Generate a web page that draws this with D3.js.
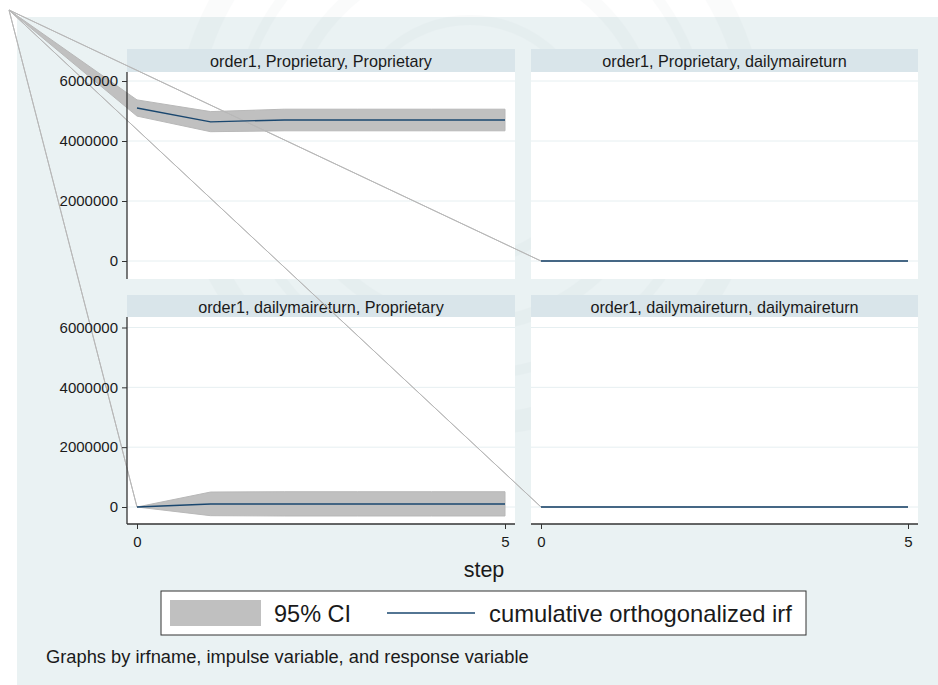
<!DOCTYPE html>
<html>
<head>
<meta charset="utf-8">
<script src="https://cdn.jsdelivr.net/npm/d3@7"></script>
<style>
  html, body { margin: 0; padding: 0; background: #ffffff; }
  svg { display: block; font-family: Arial, "Liberation Sans", Helvetica, sans-serif; }
</style>
</head>
<body>
<svg id="chart" width="938" height="685"></svg>
<script>
// ---- data ----
const steps = [0, 1, 2, 3, 4, 5];
const xTicks = [0, 5];
const yTicks = [0, 2000000, 4000000, 6000000];
const panelTitles = [
  "order1, Proprietary, Proprietary",
  "order1, Proprietary, dailymaireturn",
  "order1, dailymaireturn, Proprietary",
  "order1, dailymaireturn, dailymaireturn"
];
// cumulative orthogonalized irf per panel
const irfPP = [5100000, 4640000, 4700000, 4700000, 4700000, 4700000];
const irfPD = [0, 0, 0, 0, 0, 0];
const irfDP = [0, 100000, 100000, 100000, 100000, 100000];
const irfDD = [0, 0, 0, 0, 0, 0];
// 95% CI bounds
const upperPP = [5370000, 4980000, 5060000, 5060000, 5060000, 5060000];
const lowerPP = [4830000, 4310000, 4340000, 4340000, 4340000, 4340000];
const upperPD = [0, 0, 0, 0, 0, 0];
const lowerPD = [0, 0, 0, 0, 0, 0];
const upperDP = [0, 500000, 510000, 510000, 510000, 510000];
const lowerDP = [0, -290000, -300000, -300000, -300000, -300000];
const upperDD = [0, 0, 0, 0, 0, 0];
const lowerDD = [0, 0, 0, 0, 0, 0];
const legendLabels = ["95% CI", "cumulative orthogonalized irf"];
const xTitle = "step";
const noteText = "Graphs by irfname, impulse variable, and response variable";

const panelsData = [
  { title: panelTitles[0], irf: irfPP, up: upperPP, lo: lowerPP },
  { title: panelTitles[1], irf: irfPD, up: upperPD, lo: lowerPD },
  { title: panelTitles[2], irf: irfDP, up: upperDP, lo: lowerDP },
  { title: panelTitles[3], irf: irfDD, up: upperDD, lo: lowerDD }
];

// ---- layout ----
const C = {
  bg: "#eaf2f3", strip: "#d9e5ea", grid: "#e6eff1", ci: "#c0c0c0",
  line: "#1a476f", axis: "#333333", text: "#1a1a1a"
};
const cols = [{ x0: 127, x1: 515 }, { x0: 531, x1: 918 }];
const rows = [
  { sTop: 49, pTop: 72, pBot: 279, zeroY: 261, sixY: 81 },
  { sTop: 295, pTop: 317, pBot: 524, zeroY: 507, sixY: 327.5 }
];
const apex = [9, 10];

const svg = d3.select("#chart");

// background
svg.append("rect").attr("x", 17).attr("y", 17).attr("width", 938 - 17).attr("height", 685 - 17).attr("fill", C.bg);

// faint watermark seal
const wm = svg.append("g").attr("opacity", 0.018).attr("fill", "none").attr("stroke", "#3a5a6a");
[[285, 22], [235, 10], [185, 14], [120, 10]].forEach(([r, w]) => {
  wm.append("circle").attr("cx", 470).attr("cy", 140).attr("r", r).attr("stroke-width", w);
});

const panels = panelsData.map((d, i) => {
  const col = cols[i % 2], row = rows[Math.floor(i / 2)];
  const x = d3.scaleLinear().domain([0, 5]).range([col.x0 + 10, col.x1 - 10]);
  const y = d3.scaleLinear().domain([0, 6000000]).range([row.zeroY, row.sixY]);
  return { d, i, col, row, x, y };
});

// panel frames: strip, plot area, gridlines
panels.forEach(p => {
  const { col, row, y } = p;
  const g = svg.append("g");
  g.append("rect").attr("x", col.x0).attr("y", row.sTop).attr("width", col.x1 - col.x0).attr("height", row.pTop - row.sTop).attr("fill", C.strip);
  g.append("text").attr("x", (col.x0 + col.x1) / 2).attr("y", row.sTop + 17.5)
    .attr("text-anchor", "middle").attr("font-size", 16.2).attr("fill", C.text).text(p.d.title);
  g.append("rect").attr("x", col.x0).attr("y", row.pTop).attr("width", col.x1 - col.x0).attr("height", row.pBot - row.pTop).attr("fill", "#ffffff");
  g.selectAll("line.grid").data(yTicks).join("line")
    .attr("x1", col.x0).attr("x2", col.x1)
    .attr("y1", v => y(v)).attr("y2", v => y(v))
    .attr("stroke", C.grid).attr("stroke-width", 1);
});

// CI bands (drawn with the stray anchor vertex seen in the reference)
panels.forEach(p => {
  const { x, y, d } = p;
  const pts = [apex];
  steps.forEach((s, k) => pts.push([x(s), y(d.up[k])]));
  for (let k = steps.length - 1; k >= 0; k--) pts.push([x(steps[k]), y(d.lo[k])]);
  pts.push(apex);
  svg.append("path").attr("d", d3.line()(pts))
    .attr("fill", C.ci).attr("stroke", "#b8b8b8").attr("stroke-width", 1).attr("stroke-linejoin", "round");
});

// axes
panels.forEach(p => {
  const { col, row, x, y, i } = p;
  const g = svg.append("g");
  if (i % 2 === 0) {
    const ya = g.append("g").attr("transform", `translate(${col.x0},0)`)
      .call(d3.axisLeft(y).tickValues(yTicks).tickSize(5).tickPadding(4).tickFormat(d3.format("d")).tickSizeOuter(0));
    ya.select(".domain").attr("stroke", C.axis).attr("stroke-width", 1.3).attr("d", `M0,${row.pTop}V${row.pBot}`);
    ya.selectAll(".tick line").attr("stroke", C.axis).attr("stroke-width", 1);
    ya.selectAll(".tick text").attr("font-size", 15).attr("fill", C.text).attr("font-family", "Arial, 'Liberation Sans', sans-serif");
  }
  if (i >= 2) {
    const xa = g.append("g").attr("transform", `translate(0,${row.pBot})`)
      .call(d3.axisBottom(x).tickValues(xTicks).tickSize(5).tickPadding(7).tickFormat(d3.format("d")).tickSizeOuter(0));
    xa.select(".domain").attr("stroke", C.axis).attr("stroke-width", 1.3).attr("d", `M${col.x0},0H${col.x1}`);
    xa.selectAll(".tick line").attr("stroke", C.axis).attr("stroke-width", 1);
    xa.selectAll(".tick text").attr("font-size", 15).attr("fill", C.text).attr("font-family", "Arial, 'Liberation Sans', sans-serif");
  }
});

// irf lines
panels.forEach(p => {
  const { x, y, d } = p;
  const line = d3.line().x((s) => x(s)).y((s, k) => y(d.irf[k]));
  svg.append("path").attr("d", line(steps)).attr("fill", "none")
    .attr("stroke", C.line).attr("stroke-width", 1.3);
});

// x title
svg.append("text").attr("x", 484).attr("y", 577).attr("text-anchor", "middle")
  .attr("font-size", 21.5).attr("fill", C.text).text(xTitle);

// legend
const lg = svg.append("g");
lg.append("rect").attr("x", 161).attr("y", 591).attr("width", 806 - 161).attr("height", 635 - 591)
  .attr("fill", "#ffffff").attr("stroke", C.axis).attr("stroke-width", 1);
lg.append("rect").attr("x", 170).attr("y", 600).attr("width", 91).attr("height", 26).attr("fill", C.ci);
lg.append("text").attr("x", 274).attr("y", 622).attr("font-size", 23.5).attr("fill", C.text).text(legendLabels[0]);
lg.append("line").attr("x1", 387).attr("x2", 475).attr("y1", 613).attr("y2", 613).attr("stroke", C.line).attr("stroke-width", 1.5);
lg.append("text").attr("x", 489).attr("y", 622).attr("font-size", 23.8).attr("fill", C.text).text(legendLabels[1]);

// note
svg.append("text").attr("x", 46).attr("y", 663).attr("font-size", 18.3).attr("fill", C.text).text(noteText);
</script>
</body>
</html>
